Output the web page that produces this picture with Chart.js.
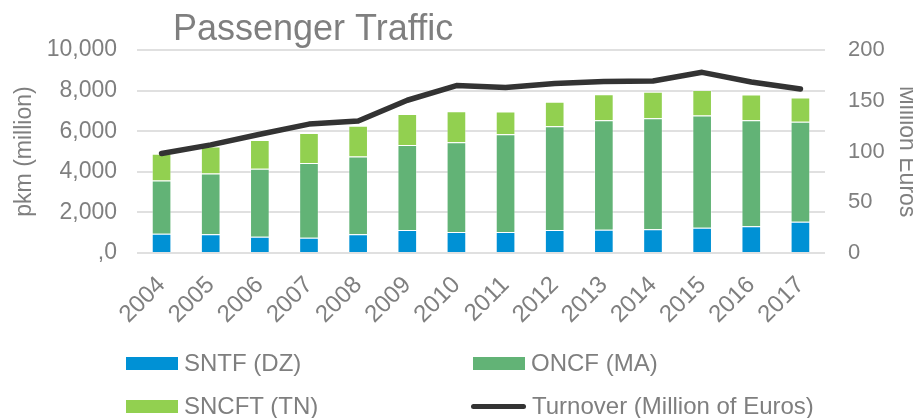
<!DOCTYPE html>
<html lang="en">
  <head>
    <meta charset="utf-8" />
    <title>Passenger Traffic</title>
    <style>
      * {
        margin: 0;
        padding: 0;
      }
      body {
        background: #fff;
        font-family: "Liberation Sans", Arial, sans-serif;
      }
      .chartBox {
        position: relative;
        width: 913px;
        height: 418px;
        overflow: hidden;
      }
      .legend {
        position: absolute;
        left: 0;
        top: 0;
        width: 913px;
        height: 418px;
        pointer-events: none;
      }
      .legend .item {
        position: absolute;
        display: flex;
        align-items: center;
        height: 28px;
        color: #7f7f7f;
        font-size: 24px;
        white-space: nowrap;
      }
      .legend .swatch {
        width: 52px;
        height: 13px;
        margin-right: 6px;
      }
      .legend .swatch.line {
        height: 5px;
        border-radius: 3px;
      }
    </style>
  </head>
  <body>
    <div class="chartBox">
      <canvas id="myChart" width="920" height="418"></canvas>
      <div class="legend" id="legend"></div>
    </div>

    <script src="https://cdn.jsdelivr.net/npm/chart.js@4.4.0/dist/chart.umd.min.js"></script>

    <script>
      const years = ["2004", "2005", "2006", "2007", "2008", "2009", "2010",
        "2011", "2012", "2013", "2014", "2015", "2016", "2017"];
      const sntf = [950, 925, 805, 755, 925, 1135, 1040, 1040, 1135, 1150, 1170, 1250, 1320, 1545];
      const oncf = [2620, 2990, 3345, 3675, 3830, 4185, 4410, 4805, 5105, 5385, 5465, 5520, 5215, 4925];
      const sncft = [1320, 1335, 1415, 1480, 1515, 1530, 1530, 1120, 1205, 1285, 1305, 1265, 1270, 1185];
      const turnover = [98, 106.5, 117, 127, 130, 150.5, 165, 163, 167, 169, 169.5, 178, 168.5, 161.5];

      const gray = "#7f7f7f";
      const font = "'Liberation Sans', Arial, sans-serif";

      // data block
      const data = {
        labels: years,
        datasets: [
          {
            type: "line",
            label: "Turnover (Million of Euros)",
            data: turnover,
            yAxisID: "y2",
            borderColor: "#333333",
            backgroundColor: "#333333",
            borderWidth: 5.5,
            borderCapStyle: "round",
            borderJoinStyle: "round",
            pointRadius: 0,
            tension: 0,
            order: 0,
          },
          {
            label: "SNTF (DZ)",
            data: sntf,
            backgroundColor: "#0091d5",
            borderColor: "rgba(255, 255, 255, 0.35)",
            borderWidth: 1,
            order: 1,
          },
          {
            label: "ONCF (MA)",
            data: oncf,
            backgroundColor: "#62b376",
            borderColor: "rgba(255, 255, 255, 0.35)",
            borderWidth: 1,
            order: 1,
          },
          {
            label: "SNCFT (TN)",
            data: sncft,
            backgroundColor: "#92d050",
            borderColor: "rgba(255, 255, 255, 0.35)",
            borderWidth: 1,
            order: 1,
          },
        ],
      };

      // title drawn left of centre, like the original
      const titlePlugin = {
        id: "leftTitle",
        afterDraw(chart) {
          const ctx = chart.ctx;
          ctx.save();
          ctx.font = "36px " + font;
          ctx.fillStyle = gray;
          ctx.textBaseline = "alphabetic";
          ctx.textAlign = "left";
          ctx.fillText("Passenger Traffic", 173, 40);
          ctx.restore();
        },
      };

      // config block
      const config = {
        type: "bar",
        data: data,
        plugins: [titlePlugin],
        options: {
          responsive: false,
          animation: false,
          layout: { padding: { top: 50, left: 0, right: 0, bottom: 0 } },
          datasets: {
            bar: { barPercentage: 0.4, categoryPercentage: 1 },
          },
          plugins: {
            legend: { display: false },
            tooltip: { enabled: false },
          },
          scales: {
            x: {
              stacked: true,
              grid: { display: false },
              border: { display: false },
              ticks: {
                color: gray,
                font: { family: font, size: 24 },
                minRotation: 45,
                maxRotation: 45,
                padding: 10,
              },
              afterFit: (scale) => {
                scale.height = 165;
              },
            },
            y: {
              stacked: true,
              position: "left",
              min: 0,
              max: 10000,
              grid: { color: "#e0e0e0", lineWidth: 2, drawTicks: false },
              border: { display: false },
              ticks: {
                stepSize: 2000,
                color: gray,
                font: { family: font, size: 23 },
                padding: 20,
                callback: (v) => (v === 0 ? ",0" : v.toLocaleString("en-US")),
              },
              title: {
                display: true,
                text: "pkm (million)",
                color: gray,
                font: { family: font, size: 23 },
                padding: { top: 11, bottom: 0 },
              },
              afterFit: (scale) => {
                scale.width = 137;
              },
            },
            y2: {
              position: "right",
              min: 0,
              max: 200,
              grid: { display: false, drawTicks: false },
              border: { display: false },
              ticks: {
                stepSize: 50,
                color: gray,
                font: { family: font, size: 22 },
                padding: 23,
              },
              title: {
                display: true,
                text: "Million Euros",
                color: gray,
                font: { family: font, size: 23 },
                padding: { top: 0, bottom: 0 },
              },
              afterFit: (scale) => {
                scale.width = 95;
              },
            },
          },
        },
      };

      // init render block
      const myChart = new Chart(document.getElementById("myChart"), config);

      // html legend, two columns like the original
      const legendSlots = [
        { ds: 1, left: 126, top: 349 },
        { ds: 2, left: 473, top: 349 },
        { ds: 3, left: 126, top: 392 },
        { ds: 0, left: 471, top: 392 },
      ];
      const legendEl = document.getElementById("legend");
      legendSlots.forEach((slot) => {
        const ds = myChart.data.datasets[slot.ds];
        const item = document.createElement("div");
        item.className = "item";
        item.style.left = slot.left + "px";
        item.style.top = slot.top + "px";
        const sw = document.createElement("span");
        sw.className = ds.type === "line" ? "swatch line" : "swatch";
        sw.style.background = ds.type === "line" ? ds.borderColor : ds.backgroundColor;
        if (ds.type === "line") sw.style.width = "55px";
        const txt = document.createElement("span");
        txt.textContent = ds.label;
        item.appendChild(sw);
        item.appendChild(txt);
        legendEl.appendChild(item);
      });
    </script>
  </body>
</html>
